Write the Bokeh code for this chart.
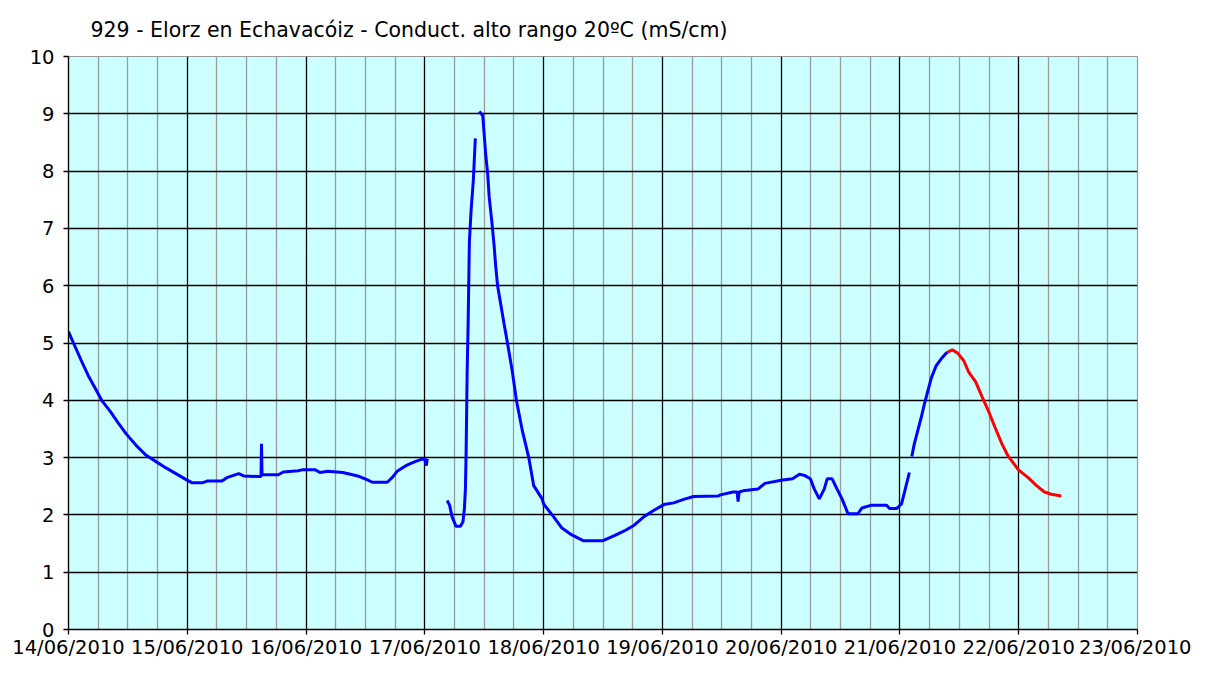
import pandas as pd
from bokeh.plotting import figure
from bokeh.models import FixedTicker, DatetimeTickFormatter, Range1d
from bokeh.embed import file_html
from bokeh.resources import INLINE

TITLE = "929 - Elorz en Echavacóiz - Conduct. alto rango 20ºC (mS/cm)"
START = "2010-06-14 00:00"
N_DAYS = 9

# hours since 14/06/2010 00:00 and conductivity (mS/cm), one list pair per segment
seg1_h = [0, 1, 2.75, 4, 5.4, 6.7, 8.4, 10, 11.7, 13.7, 15.7, 17.7, 19.7, 21.7, 23.7, 25,
          27, 28, 31, 32, 34.4, 35.4, 38.4, 38.9, 39.0, 39.1, 42.4, 43.4, 46.4, 47.4, 49.8,
          50.8, 52.4, 55.4, 57.4, 58.8, 60.4, 61.4, 64.4, 65.4, 66.4, 68.4, 70, 71.3, 72.0,
          72.3, 72.5]
seg1_v = [5.20, 5.00, 4.66, 4.43, 4.21, 4.00, 3.81, 3.61, 3.41, 3.21, 3.04, 2.93, 2.82, 2.72,
          2.62, 2.56, 2.56, 2.59, 2.59, 2.65, 2.72, 2.68, 2.67, 2.67, 3.24, 2.70, 2.70, 2.75,
          2.77, 2.79, 2.79, 2.74, 2.76, 2.74, 2.70, 2.67, 2.61, 2.57, 2.57, 2.65, 2.76, 2.87,
          2.93, 2.97, 2.97, 2.86, 2.98]

seg2_h = [76.5, 77.0, 77.5, 78.3, 79.2, 79.7, 80.0, 80.2, 80.35, 80.55, 80.75, 81.0, 81.35,
          81.8, 82.2]
seg2_v = [2.25, 2.17, 1.97, 1.80, 1.80, 1.88, 2.11, 2.45, 3.13, 4.49, 5.34, 6.76, 7.32, 7.84,
          8.57]

seg3_h = [83.0, 83.7, 84.0, 84.3, 84.7, 85.0, 85.5, 86.0, 86.3, 86.7, 88.0, 88.7, 89.7, 90.5,
          91.7, 93.0, 94.0, 95.7, 96.0, 98.0, 99.7, 101.7, 104.0, 108.0, 110.3, 112.3, 114.3,
          116.3, 118.3, 120.3, 122.3, 124.3, 126.3, 131.3, 131.7, 134.3, 135.1, 135.3, 135.5,
          136.3, 139.3, 140.7, 144.3, 146.3, 147.7, 148.7, 149.9, 150.7, 151.7, 152.7, 153.3,
          154.3, 155.3, 156.3, 157.1, 157.5, 159.5, 160.3, 162.3, 165.3, 165.9, 167.3, 168.3,
          168.9, 169.9]
seg3_v = [9.04, 8.97, 8.63, 8.29, 7.95, 7.55, 7.15, 6.70, 6.36, 6.00, 5.34, 5.00, 4.49, 4.00,
          3.47, 3.00, 2.51, 2.28, 2.19, 1.97, 1.77, 1.65, 1.55, 1.55, 1.64, 1.72, 1.82, 1.97,
          2.08, 2.18, 2.21, 2.27, 2.32, 2.33, 2.35, 2.40, 2.40, 2.23, 2.40, 2.42, 2.45, 2.55,
          2.61, 2.63, 2.71, 2.69, 2.63, 2.45, 2.28, 2.45, 2.63, 2.63, 2.45, 2.28, 2.11, 2.02,
          2.02, 2.12, 2.17, 2.17, 2.11, 2.11, 2.19, 2.39, 2.74]

seg4_h = [170.4, 170.9, 171.6, 172.3, 172.9, 173.6, 174.3, 175.3, 176.3, 177.1, 177.6]
seg4_v = [3.02, 3.24, 3.47, 3.70, 3.92, 4.15, 4.38, 4.60, 4.72, 4.80, 4.84]

# last part drawn in red
red_h = [177.6, 178.6, 179.7, 180.9, 181.9, 183.3, 184.6, 185.9, 187.2, 188.6, 189.9, 191.9,
         193.9, 195.6, 197.2, 198.6, 200.6]
red_v = [4.84, 4.88, 4.82, 4.69, 4.49, 4.32, 4.06, 3.81, 3.53, 3.24, 3.02, 2.79, 2.65, 2.51,
         2.40, 2.36, 2.33]

Y_TICKS = list(range(0, 11))

start = pd.Timestamp(START)


def to_t(hours):
    return [start + pd.Timedelta(hours=h) for h in hours]


def ms(ts):
    return (ts - pd.Timestamp("1970-01-01")) / pd.Timedelta(milliseconds=1)


day_ms = [ms(start + pd.Timedelta(days=i)) for i in range(N_DAYS + 1)]
six_ms = [ms(start + pd.Timedelta(hours=6 * i)) for i in range(N_DAYS * 4 + 1) if i % 4 != 0]

p = figure(width=1191, height=661, x_axis_type="datetime", output_backend="svg",
           toolbar_location=None, min_border_left=68, min_border_right=54,
           min_border_top=56, min_border_bottom=28,
           x_range=Range1d(day_ms[0], day_ms[-1]), y_range=Range1d(0, 10))

p.title.text = TITLE
p.title.text_font = "DejaVu Sans"
p.title.text_font_size = "20.5px"
p.title.text_font_style = "normal"
p.title.text_color = "#000000"
p.title.align = "left"
p.title.offset = 22
p.title.standoff = 29

p.border_fill_color = "#FFFFFF"
p.background_fill_color = "#CCFFFF"
p.outline_line_color = "#9A9A9A"
p.outline_line_width = 1.2

# grids
p.xgrid.ticker = FixedTicker(ticks=day_ms[1:-1], minor_ticks=six_ms)
p.xgrid.grid_line_color = "#000000"
p.xgrid.grid_line_width = 1.3
p.xgrid.minor_grid_line_color = "#9A9A9A"
p.xgrid.minor_grid_line_width = 1.3
p.ygrid.ticker = FixedTicker(ticks=Y_TICKS[1:-1])
p.ygrid.grid_line_color = "#000000"
p.ygrid.grid_line_width = 1.3

# axes
p.xaxis.ticker = FixedTicker(ticks=day_ms)
p.xaxis.formatter = DatetimeTickFormatter(days="%d/%m/%Y", months="%d/%m/%Y",
                                          hours="%d/%m/%Y", years="%d/%m/%Y")
p.yaxis.ticker = FixedTicker(ticks=Y_TICKS)
for ax in (p.xaxis[0], p.yaxis[0]):
    ax.axis_line_color = "#000000"
    ax.axis_line_width = 1.3
    ax.major_tick_line_color = "#000000"
    ax.major_tick_line_width = 1.3
    ax.major_tick_out = 5
    ax.major_tick_in = 0
    ax.minor_tick_line_color = None
    ax.major_label_text_font = "DejaVu Sans"
    ax.major_label_text_font_size = "19.5px"
    ax.major_label_text_color = "#000000"
p.xaxis.major_label_standoff = 1
p.yaxis.major_label_standoff = 9

for hh, vv in [(seg1_h, seg1_v), (seg2_h, seg2_v), (seg3_h, seg3_v), (seg4_h, seg4_v)]:
    p.line(to_t(hh), vv, line_color="#0000FF", line_width=3)
p.line(to_t(red_h), red_v, line_color="#FF0000", line_width=3)

open("out.html", "w").write(file_html(p, INLINE))
